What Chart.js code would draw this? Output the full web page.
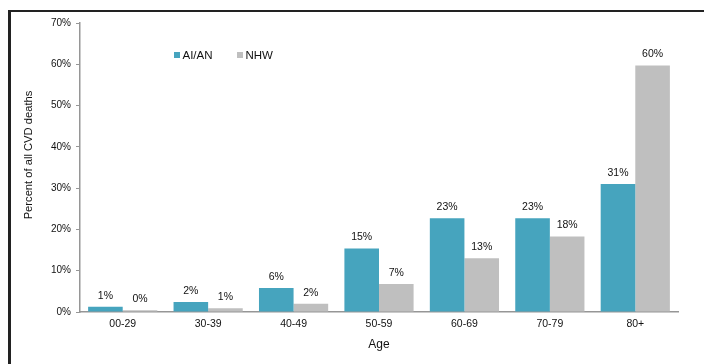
<!DOCTYPE html>
<html>
<head>
<meta charset="utf-8">
<script src="https://cdn.jsdelivr.net/npm/chart.js@4"></script>
<style>
    html, body { margin: 0; padding: 0; background: #fff; overflow: hidden; }
    #wrap { position: relative; width: 704px; height: 364px; }
    #frame {
        position: absolute; left: 8px; top: 10px; right: -10px; bottom: -10px;
        border-left: 3px solid #222; border-top: 2px solid #222;
    }
    #grafico { position: absolute; left: 0; top: 0; }
</style>
</head>
<body>
<div id="wrap">
    <div id="frame"></div>
    <canvas id="grafico" width="704" height="364"></canvas>
</div>
<script>
// porcentaje de muertes CVD por grupo de edad
var ageGroups = ["00-29", "30-39", "40-49", "50-59", "60-69", "70-79", "80+"];
var aianShare = [1.3, 2.4, 5.8, 15.4, 22.7, 22.7, 31.0];
var nhwShare = [0.4, 0.9, 2.0, 6.8, 13.0, 18.3, 59.7];
var yTicks = [0, 10, 20, 30, 40, 50, 60, 70];

var fuente = "'Liberation Sans', Arial, sans-serif";
var colorTexto = "#111";

// etiquetas de valor sobre cada barra, leyenda y titulo del eje y
var extras = {
    id: "extras",
    afterDatasetsDraw: function (chart) {
        var ctx = chart.ctx;
        ctx.save();
        ctx.fillStyle = colorTexto;
        ctx.font = "10.5px " + fuente;
        ctx.textAlign = "center";
        ctx.textBaseline = "middle";
        chart.data.datasets.forEach(function (ds, i) {
            chart.getDatasetMeta(i).data.forEach(function (bar, j) {
                ctx.fillText(Math.round(ds.data[j]) + "%", bar.x, bar.y - 11);
            });
        });

        // leyenda
        var x = 174;
        ctx.font = "11.5px " + fuente;
        ctx.textAlign = "left";
        chart.data.datasets.forEach(function (ds) {
            ctx.fillStyle = ds.backgroundColor;
            ctx.fillRect(x, 52, 6, 6);
            ctx.fillStyle = colorTexto;
            ctx.fillText(ds.label, x + 8.5, 55.5);
            x += 63;
        });

        // titulo eje y
        ctx.translate(29, 155);
        ctx.rotate(-Math.PI / 2);
        ctx.textAlign = "center";
        ctx.font = "11.2px " + fuente;
        ctx.fillText("Percent of all CVD deaths", 0, 0);
        ctx.restore();
    }
};

new Chart(document.getElementById("grafico"), {
    type: "bar",
    data: {
        labels: ageGroups,
        datasets: [
            { label: "AI/AN", data: aianShare, backgroundColor: "#46a4be" },
            { label: "NHW", data: nhwShare, backgroundColor: "#bfbfbf" }
        ]
    },
    options: {
        responsive: false,
        animation: false,
        categoryPercentage: 0.81,
        barPercentage: 1,
        layout: { padding: { top: 23, right: 26, left: 0, bottom: 0 } },
        plugins: {
            legend: { display: false },
            tooltip: { enabled: false }
        },
        scales: {
            x: {
                grid: { display: false, drawTicks: false },
                border: { color: "#969696", width: 1.5 },
                ticks: { color: colorTexto, font: { family: fuente, size: 10.5 }, padding: 6 },
                title: {
                    display: true, text: "Age", color: colorTexto,
                    font: { family: fuente, size: 12 }, padding: { top: 0, bottom: 12 }
                },
                afterFit: function (scale) { scale.height = 52; }
            },
            y: {
                min: 0,
                max: 70,
                afterBuildTicks: function (scale) {
                    scale.ticks = yTicks.map(function (v) { return { value: v }; });
                },
                grid: { drawOnChartArea: false, drawTicks: true, tickLength: 4, color: "#969696", lineWidth: 1 },
                border: { color: "#969696", width: 1.5 },
                ticks: {
                    color: colorTexto,
                    font: { family: fuente, size: 10 },
                    padding: 5,
                    callback: function (v) { return v + "%"; }
                },
                afterFit: function (scale) { scale.width = 80; }
            }
        }
    },
    plugins: [extras]
});
</script>
</body>
</html>
